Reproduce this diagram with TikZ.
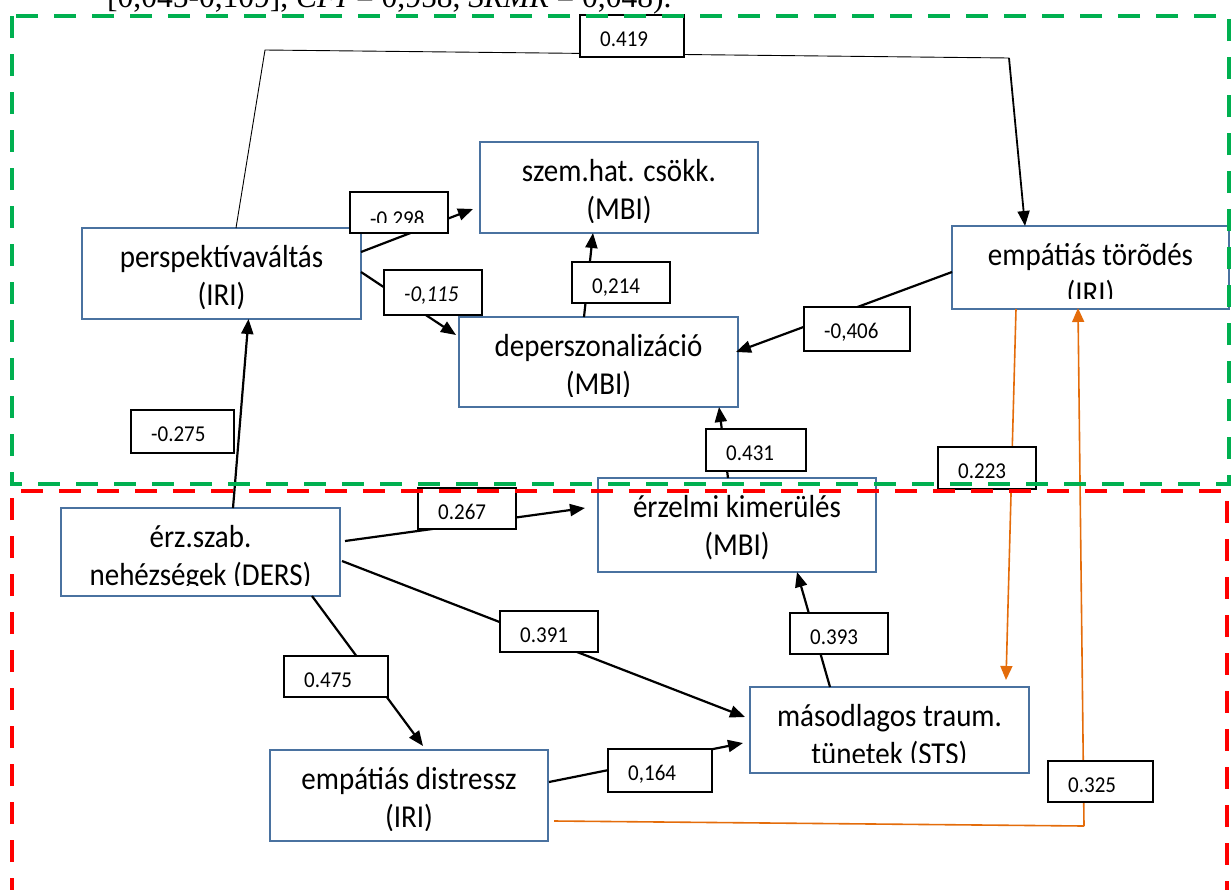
\documentclass[tikz,border=0pt]{standalone}
\usepackage{fontspec}
\setmainfont{Carlito}
\newfontfamily\timesf{Liberation Serif}
\usetikzlibrary{arrows.meta,calc}
\definecolor{nblue}{RGB}{74,114,160}
\definecolor{orng}{RGB}{228,108,10}
\definecolor{grn}{RGB}{0,176,80}
\definecolor{rd}{RGB}{255,0,0}
\tikzset{
  nbox/.style={draw=nblue, line width=2.2pt, fill=white, inner sep=0pt, outer sep=0pt},
  ntext/.style={anchor=base, inner sep=0pt, font=\fontsize{29}{35}\selectfont},
  lbox/.style={draw=black, line width=1.4pt, fill=white, inner sep=0pt, outer sep=0pt},
  ltext/.style={anchor=base west, inner sep=0pt, font=\fontsize{21}{25}\selectfont},
  arr/.style={draw=black, line width=2.2pt, -{Triangle[length=15pt,width=12pt]}},
  thinl/.style={draw=black, line width=0.9pt},
  oarr/.style={draw=orng, line width=1.6pt, -{Triangle[length=14pt,width=12pt]}},
  oline/.style={draw=orng, line width=1.6pt},
  frame/.style={line width=4.5pt, dash pattern=on 22pt off 16pt}
}
\newcommand\mynode[7]{%
  \node[nbox, minimum width={#4-#2}, minimum height={#5-#3}] (#1) at ({(#2+#4)/2},{(#3+#5)/2}) {};
  \begin{scope}
    \clip (#2,#3) rectangle (#4,#5-11);
    \node[ntext] at ({(#2+#4)/2},#3+39) {\scalebox{1}[1.1]{#6}};
    \node[ntext] at ({(#2+#4)/2},#3+77) {\scalebox{1}[1.1]{#7}};
  \end{scope}}
\newcommand\mylab[7]{%
  \node[lbox, minimum width={#4-#2}, minimum height={#5-#3}] (#1) at ({(#2+#4)/2},{(#3+#5)/2}) {};
  \begin{scope}
    \clip (#2,#3) rectangle (#4,#3+#7);
    \node[ltext] at (#2+20,#3+31) {\scalebox{1}[1.08]{#6}};
  \end{scope}}
\begin{document}
\begin{tikzpicture}[x=1pt,y=-1pt]
\useasboundingbox (0,0) rectangle (1231,889);
\clip (0,0) rectangle (1231,889);

% main boxes
\mynode{persp}{82}{228}{361}{319}{perspektívaváltás}{(IRI)}
\mynode{szem}{480}{142}{758}{233}{szem.hat. csökk.}{(MBI)}
\mynode{torodes}{952}{226}{1229}{309}{empátiás törõdés}{(IRI)}
\mynode{deper}{459}{317}{738}{407}{deperszonalizáció}{(MBI)}
\mynode{erz}{598}{478}{876}{572}{érzelmi kimerülés}{(MBI)}
\mynode{ders}{61}{508}{340}{596}{érz.szab.}{nehézségek (DERS)}
\mynode{masod}{750}{687}{1029}{773}{másodlagos traum.}{tünetek (STS)}
\mynode{distr}{270}{750}{548}{841}{empátiás distressz}{(IRI)}

% bend points
\coordinate (c1) at (265,50);
\coordinate (c2) at (1009,58);
\coordinate (c3) at (1084,826);

% connectors
\draw[thinl] ([xshift=14.5pt]persp.north) -- (c1) -- (c2);
\draw[arr, line width=1.8pt] (c2) -- ([xshift=-65.5pt]torodes.north);
\draw[arr] ([xshift=32.5pt]ders.north) -- ([xshift=27pt]persp.south);
\draw[arr] ([yshift=21.5pt]persp.east) -- ([xshift=-7pt,yshift=-21.5pt]szem.west);
\draw[arr] ([yshift=1.5pt]persp.east) -- ([xshift=-3pt,yshift=27pt]deper.west);
\draw[arr] ([xshift=-14.5pt]deper.north) -- ([xshift=-26pt]szem.south);
\draw[arr] ([yshift=-4.5pt]torodes.west) -- ([xshift=-2pt,yshift=10pt]deper.east);
\draw[arr] ([xshift=-9pt]erz.north) -- ([xshift=120.5pt]deper.south);
\draw[arr] ([xshift=5pt,yshift=11pt]ders.east) -- ([xshift=-13pt,yshift=17pt]erz.west);
\draw[arr] ([xshift=2pt,yshift=-9pt]ders.east) -- ([xshift=-5pt,yshift=13pt]masod.west);
\draw[arr] ([xshift=111.5pt]ders.south) -- ([xshift=14pt,yshift=4pt]distr.north);
\draw[arr] ([xshift=1pt,yshift=13.5pt]distr.east) -- ([xshift=-7pt,yshift=-13pt]masod.west);
\draw[arr] ([xshift=-59.5pt]masod.north) -- ([xshift=60pt]erz.south);
\draw[oarr] ([xshift=-74.5pt]torodes.south) -- ([xshift=116.5pt,yshift=7pt]masod.north);
\draw[oline] ([xshift=6pt,yshift=-25.5pt]distr.east) -- (c3);
\draw[oarr] (c3) -- ([xshift=-12.5pt,yshift=1pt]torodes.south);

% coefficient labels
\mylab{l419}{580}{15}{684}{57}{0.419}{42}
\mylab{l298}{350}{192}{448}{233}{\raisebox{-3pt}{-0.298}}{30}
\mylab{l115}{384}{270}{482}{315}{\itshape -0,115}{45}
\mylab{l275}{131}{410}{234}{453}{-0.275}{43}
\mylab{l214}{572}{262}{670}{303}{0,214}{41}
\mylab{l406}{804}{307}{910}{351}{-0,406}{44}
\mylab{l431}{706}{429}{806}{471}{0.431}{42}
\mylab{l223}{938}{447}{1036}{489}{0.223}{42}
\mylab{l267}{418}{488}{516}{529}{0.267}{41}
\mylab{l391}{500}{611}{598}{652}{0.391}{41}
\mylab{l475}{284}{656}{388}{697}{0.475}{41}
\mylab{l393}{790}{613}{888}{654}{0.393}{41}
\mylab{l164}{608}{749}{712}{792}{0,164}{43}
\mylab{l325}{1048}{761}{1153}{802}{0.325}{41}

% dashed frames
\draw[frame, draw=grn] (12,16) rectangle (1229,484);
\draw[frame, draw=rd] (12,900) -- (12,491) -- (1227,491) -- (1227,900);

% clipped caption text
\node[anchor=base west, inner sep=0pt, font=\timesf\fontsize{31.5}{36}\selectfont] (title) at (107,7.5)
  {[0,045-0,109], \textit{CFI} = 0,958, \textit{SRMR} = 0,048).};
\end{tikzpicture}
\end{document}
